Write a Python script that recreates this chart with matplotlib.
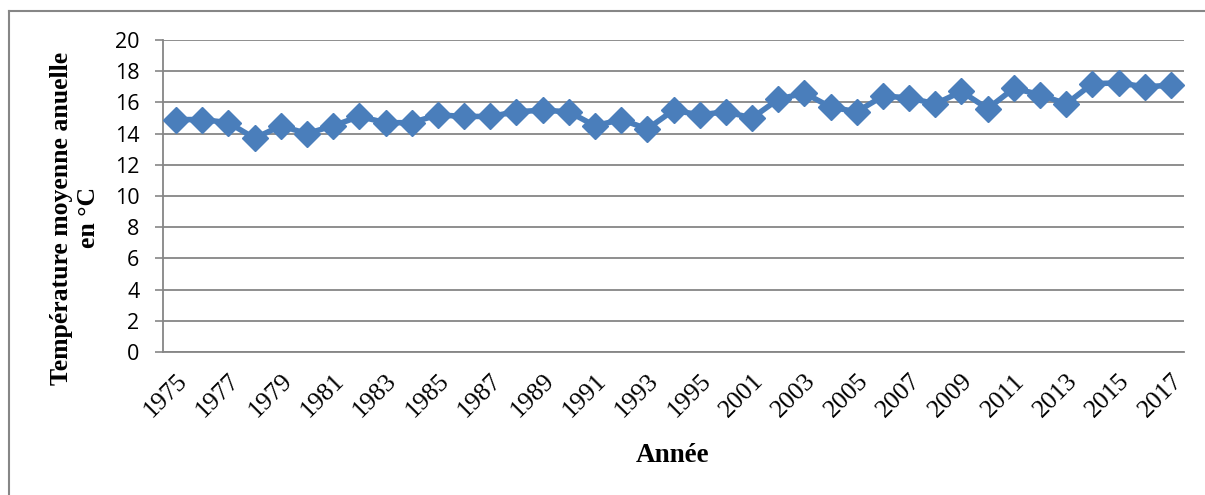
import numpy as np
import matplotlib.pyplot as plt
from matplotlib.lines import Line2D

# Années (1996-1999 absentes de la série)
years = [1975, 1976, 1977, 1978, 1979, 1980, 1981, 1982, 1983, 1984,
         1985, 1986, 1987, 1988, 1989, 1990, 1991, 1992, 1993, 1994,
         1995, 2000, 2001, 2002, 2003, 2004, 2005, 2006, 2007, 2008,
         2009, 2010, 2011, 2012, 2013, 2014, 2015, 2016, 2017]
temps = [14.9, 14.9, 14.7, 13.7, 14.5, 14.0, 14.5, 15.1, 14.7, 14.7,
         15.2, 15.1, 15.1, 15.4, 15.5, 15.4, 14.5, 14.9, 14.3, 15.5,
         15.2, 15.4, 15.0, 16.2, 16.6, 15.7, 15.4, 16.4, 16.3, 15.9,
         16.7, 15.6, 16.9, 16.5, 15.9, 17.2, 17.25, 17.0, 17.1]
yticks = list(range(0, 21, 2))

W, H = 1205, 495
fig = plt.figure(figsize=(W / 100, H / 100), dpi=100)
ax = fig.add_axes([163 / W, 1 - 352 / H, (1184 - 163) / W, (352 - 40) / H])

grey = '#868686'
x = np.arange(len(years))
ax.plot(x, temps, color='#4a7ebb', lw=4, marker='D', ms=13.5, zorder=3)

ax.set_xlim(-0.5, len(years) - 0.5)
ax.set_ylim(0, 20)
ax.set_yticks(yticks)
ax.set_yticklabels([str(v) for v in yticks], fontfamily='Open Sans', fontsize=15.5)
ax.set_xticks(x[::2])
ax.set_xticklabels([str(y) for y in years[::2]], rotation=45, ha='right', va='top',
                   rotation_mode='anchor', fontfamily='Liberation Serif', fontsize=18.5)
ax.tick_params(axis='x', length=0, pad=13)
ax.tick_params(axis='y', length=6, color=grey, width=1.2, pad=11)

ax.grid(axis='y', color=grey, lw=1.3)
ax.set_axisbelow(True)
for s in ['top', 'right']:
    ax.spines[s].set_visible(False)
for s in ['left', 'bottom']:
    ax.spines[s].set_color(grey)
    ax.spines[s].set_linewidth(1.3)

fig.text(75 / W, 1 - 218 / H, 'Température moyenne anuelle\nen °C', rotation=90,
         ha='center', va='center', multialignment='center',
         fontfamily='Liberation Serif', fontweight='bold', fontsize=18.5)
fig.text(673 / W, 1 - 456 / H, 'Année', ha='center', va='center',
         fontfamily='Liberation Serif', fontweight='bold', fontsize=19.5)

# cadre du graphique
fig.add_artist(Line2D([9 / W, 9 / W], [0, 1 - 11 / H], color=grey, lw=1.5))
fig.add_artist(Line2D([9 / W, 1], [1 - 11 / H, 1 - 11 / H], color=grey, lw=1.5))

fig.savefig('out.png', dpi=100)
